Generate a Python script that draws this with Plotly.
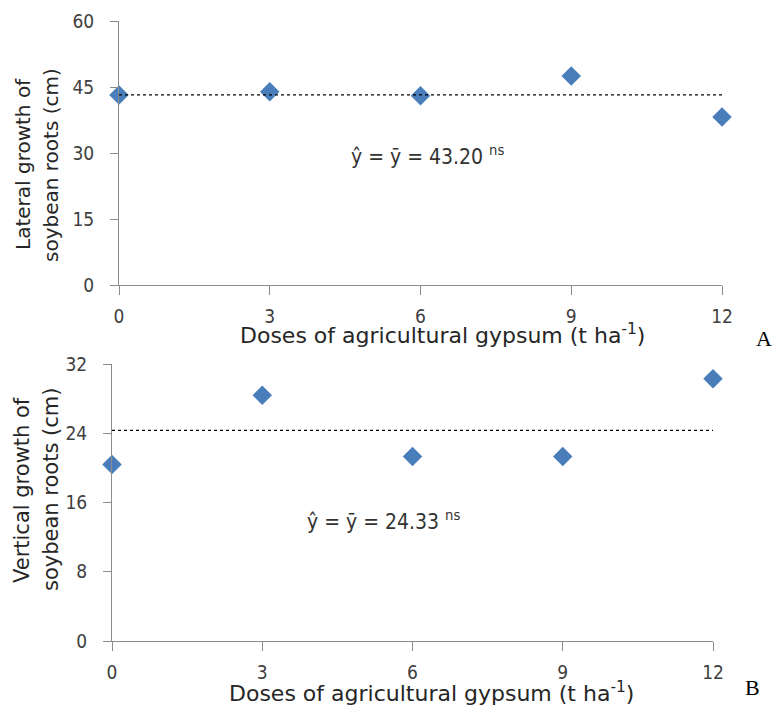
import plotly.graph_objects as go

doses = [0, 3, 6, 9, 12]
lateral = [43.2, 43.9, 43.0, 47.5, 38.2]
vertical = [20.4, 28.4, 21.3, 21.3, 30.3]
lateral_mean = 43.20
vertical_mean = 24.33
x_ticks = [0, 3, 6, 9, 12]
lat_ticks = [0, 15, 30, 45, 60]
ver_ticks = [0, 8, 16, 24, 32]

W, H = 775, 705
blue = "#4A7EBB"
axcol = "#8C8C8C"
font_narrow = "DejaVu Sans Condensed, Liberation Sans, Arial"
font_wide = "DejaVu Sans, Verdana"
tickfont = dict(family=font_narrow, size=19, color="#404040")

def px(x):
    return x / W

def py(y):
    return 1 - y / H

fig = go.Figure()

fig.add_trace(go.Scatter(x=doses, y=lateral, mode="markers", xaxis="x", yaxis="y",
                         marker=dict(symbol="diamond", size=15, color=blue), cliponaxis=False))
fig.add_trace(go.Scatter(x=[doses[0], doses[-1]], y=[lateral_mean, lateral_mean], mode="lines",
                         xaxis="x", yaxis="y", line=dict(color="black", width=1.2, dash="dot")))
fig.add_trace(go.Scatter(x=doses, y=vertical, mode="markers", xaxis="x2", yaxis="y2",
                         marker=dict(symbol="diamond", size=15, color=blue), cliponaxis=False))
fig.add_trace(go.Scatter(x=[doses[0], doses[-1]], y=[vertical_mean, vertical_mean], mode="lines",
                         xaxis="x2", yaxis="y2", line=dict(color="black", width=1.2, dash="dot")))

xcommon = dict(range=[0, 12], tickvals=x_ticks, showline=True, linecolor=axcol, linewidth=1,
               ticks="outside", ticklen=9, tickcolor=axcol, showgrid=False, zeroline=False,
               tickfont=tickfont, ticklabelstandoff=5, automargin=False, fixedrange=True)
ycommon = dict(showline=True, linecolor=axcol, linewidth=1, ticks="outside", ticklen=8,
               tickcolor=axcol, showgrid=False, zeroline=False, tickfont=tickfont,
               ticklabelstandoff=12, automargin=False, fixedrange=True)

fig.update_layout(
    width=W, height=H, autosize=False, margin=dict(l=0, r=0, t=0, b=0, pad=0),
    paper_bgcolor="white", plot_bgcolor="white", showlegend=False,
    xaxis=dict(domain=[px(119), px(722)], anchor="y", **xcommon),
    yaxis=dict(domain=[py(285), py(21)], anchor="x", range=[0, 60], tickvals=lat_ticks, **ycommon),
    xaxis2=dict(domain=[px(112), px(713)], anchor="y2", **xcommon),
    yaxis2=dict(domain=[py(641), py(364)], anchor="x2", range=[0, 32], tickvals=ver_ticks, **ycommon),
)

title_font = dict(family=font_wide, size=22, color="#262626")
yt_top = dict(family=font_wide, size=20, color="#262626")
yt_bot = dict(family=font_wide, size=21, color="#262626")
serif = dict(family="Liberation Serif, Times New Roman", size=22, color="black")
note_font = dict(family=font_narrow, size=21, color="#333333")
anns = [
    dict(x=px(442), y=py(334), text="Doses of agricultural gypsum (t ha<sup>-1</sup>)", font=title_font),
    dict(x=px(432), y=py(692), text="Doses of agricultural gypsum (t ha<sup>-1</sup>)", font=title_font),
    dict(x=px(23), y=py(164), text="Lateral growth of", textangle=-90, font=yt_top),
    dict(x=px(51), y=py(165), text="soybean roots (cm)", textangle=-90, font=yt_top),
    dict(x=px(22), y=py(490), text="Vertical growth of", textangle=-90, font=yt_bot),
    dict(x=px(51), y=py(490), text="soybean roots (cm)", textangle=-90, font=yt_bot),
    dict(x=px(764), y=py(338), text="A", font=serif),
    dict(x=px(752), y=py(687), text="B", font=serif),
    dict(x=px(427), y=py(155), text="ŷ = ȳ = 43.20 <sup>ns</sup>", font=note_font),
    dict(x=px(383), y=py(520), text="ŷ = ȳ = 24.33 <sup>ns</sup>", font=note_font),
]
for a in anns:
    a.update(xref="paper", yref="paper", showarrow=False, xanchor="center", yanchor="middle")
fig.update_layout(annotations=anns)

fig.write_html(
    "out.html",
    config={"displayModeBar": False},
    post_script="document.body.style.margin='0';document.body.style.overflow='hidden';",
)
